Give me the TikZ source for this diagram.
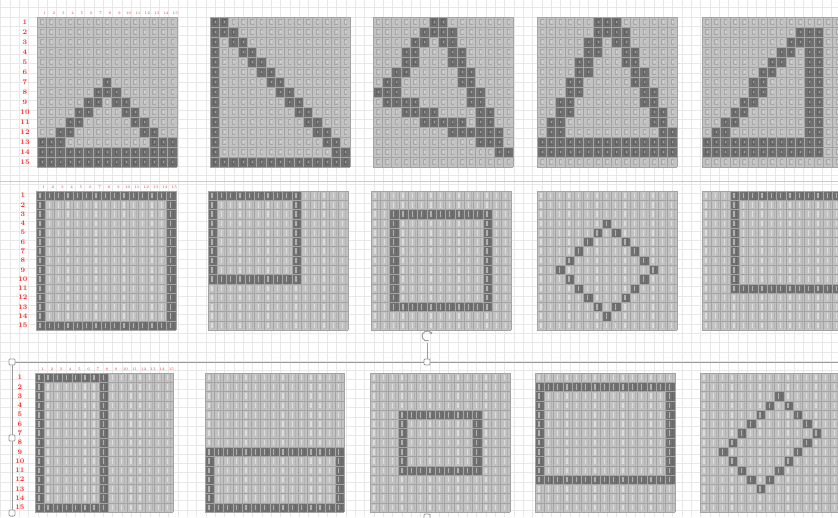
\documentclass[tikz,border=0pt]{standalone}
\usetikzlibrary{arrows.meta}
\definecolor{cellbg}{HTML}{C2C2C2}
\definecolor{celldk}{HTML}{707070}
\definecolor{cellln}{HTML}{A4A4A4}
\definecolor{sheetln}{HTML}{E8E8E8}
\definecolor{lblred}{HTML}{FF2A2A}
\definecolor{selln}{HTML}{9A9A9A}
\definecolor{selgreen}{HTML}{2E8B57}
\tikzset{
  rowlbl/.style={text=lblred,font=\fontsize{7}{7}\selectfont\bfseries,inner sep=0pt},
  collbl/.style={text=lblred,font=\fontsize{3.8}{3.8}\selectfont,inner sep=0pt},
  handlebox/.style={draw=selln,fill=white,line width=0.8pt,rounded corners=1pt,minimum size=6pt,inner sep=0pt},
  glyphC/.style={draw=black,draw opacity=0.13,line width=0.9pt},
  glyphCw/.style={draw=white,draw opacity=0.35,line width=0.8pt},
  glyphI/.style={draw=white,draw opacity=0.45,line width=1.3pt},
  glyphIdk/.style={draw=black,draw opacity=0.08,line width=1pt},
}
% filled cells along a line from (r1,c1) to (r2,c2), thickness #1 columns
\newcommand\rseg[5]{%
  \pgfmathtruncatemacro\segn{max(abs(#4-#2),abs(#5-#3))}%
  \pgfmathtruncatemacro\segd{max(\segn,1)}%
  \foreach \i in {0,...,\segn}{%
    \pgfmathtruncatemacro\segr{round(#2+(#4-#2)*\i/\segd)}%
    \pgfmathtruncatemacro\segc{round(#3+(#5-#3)*\i/\segd)}%
    \pgfmathtruncatemacro\sege{min(\segc-1+#1,15)}%
    \fill[celldk] (\segc-1,\segr-1) rectangle (\sege,\segr);
  }}
% rectangle border r1 c1 r2 c2
\newcommand\rbox[4]{%
  \fill[celldk] (#2-1,#1-1) rectangle (#4,#1);
  \fill[celldk] (#2-1,#3-1) rectangle (#4,#3);
  \fill[celldk] (#2-1,#1-1) rectangle (#2,#3);
  \fill[celldk] (#4-1,#1-1) rectangle (#4,#3);}
% cell textures
\newcommand\textureC{%
  \path[glyphC] foreach \a in {0,...,14}{foreach \b in {0,...,14}{
    (\a+0.72,\b+0.28) -- (\a+0.38,\b+0.28) -- (\a+0.38,\b+0.72) -- (\a+0.72,\b+0.72)}};
  \path[glyphCw] foreach \a in {0,...,14}{foreach \b in {0,...,14}{
    (\a+0.55,\b+0.42) -- (\a+0.55,\b+0.6)}};}
\newcommand\textureI{%
  \path[glyphIdk] foreach \a in {0,...,14}{(\a+0.72,0.1) -- (\a+0.72,14.9)};
  \path[glyphI] foreach \a in {0,...,14}{foreach \b in {0,...,14}{
    (\a+0.42,\b+0.2) -- (\a+0.42,\b+0.8)}};}
% x0 y0 cellw cellh content texture
\newcommand\sheetgrid[6]{%
  \begin{scope}[shift={(#1,#2)},x=#3pt,y=-#4pt]
    \fill[cellbg] (0,0) rectangle (15,15);
    #5
    #6
    \foreach \k in {0,...,15}{\draw[cellln,line width=0.35pt] (\k,0) -- (\k,15) (0,\k) -- (15,\k);}
  \end{scope}}
% labels: x0 y0 cw ch rowlabel-x name
\newcommand\sheetlabels[6]{%
  \foreach \r in {1,...,15}{\node[rowlbl] (#6r\r) at (#5,{#2+(\r-0.5)*#4}) {\r};}
  \foreach \c in {1,...,15}{\node[collbl] (#6c\c) at ({#1+(\c-0.5)*#3+3},{#2-4}) {\c};}}

\begin{document}
\begin{tikzpicture}[x=1pt,y=-1pt]
\useasboundingbox (0,0) rectangle (838,517);
\clip (0,0) rectangle (838,517);
\fill[white] (0,0) rectangle (838,517);
\foreach \i in {0,...,90}{\draw[sheetln,line width=0.5pt] ({0.7+\i*9.33},0) -- ({0.7+\i*9.33},517);}
\foreach \j in {0,...,56}{\draw[sheetln,line width=0.5pt] (0,{7.7+\j*9.3}) -- (838,{7.7+\j*9.3});}
\draw[sheetln!70!gray,line width=0.8pt] (0,181) -- (838,181);

% ---------- row 1 ----------
\sheetgrid{37}{17}{9.33}{10}{%
  \fill[celldk] (0,13) rectangle (15,15);
  \rseg{1}{7}{8}{7}{8}
  \rseg{2}{8}{7}{13}{2}
  \rseg{2}{8}{8}{13}{13}
  \rseg{1}{13}{1}{13}{1}
  \rseg{1}{13}{15}{13}{15}}{\textureC}
\sheetgrid{210}{17}{9.33}{10}{%
  \fill[celldk] (0,0) rectangle (1,15);
  \fill[celldk] (0,14) rectangle (15,15);
  \rseg{2}{1}{1}{14}{14}}{\textureC}
\sheetgrid{373}{17}{9.33}{10}{%
  \rseg{2}{1}{7}{8}{1}
  \rseg{1}{8}{2}{13}{14}
  \rseg{1}{9}{2}{14}{15}
  \rseg{2}{1}{7}{14}{14}}{\textureC}
\sheetgrid{537}{17}{9.33}{10}{%
  \rseg{2}{1}{7}{13}{1}
  \rseg{2}{1}{8}{13}{14}
  \fill[celldk] (0,12) rectangle (15,14);}{\textureC}
\sheetgrid{702}{17}{9.33}{10}{%
  \fill[celldk] (11,1) rectangle (13,14);
  \rseg{2}{2}{11}{13}{1}
  \fill[celldk] (0,12) rectangle (13,14);}{\textureC}
\sheetlabels{37}{17}{9.33}{10}{25}{a}

% ---------- row 2 ----------
\sheetgrid{36}{191}{9.33}{9.27}{\rbox{1}{1}{15}{15}}{\textureI}
\sheetgrid{208}{191}{9.33}{9.27}{\rbox{1}{1}{10}{10}}{\textureI}
\sheetgrid{371}{191}{9.33}{9.27}{\rbox{3}{3}{13}{13}}{\textureI}
\sheetgrid{537}{191}{9.33}{9.27}{%
  \rseg{1}{4}{8}{9}{3}
  \rseg{1}{9}{3}{14}{8}
  \rseg{1}{14}{8}{9}{13}
  \rseg{1}{9}{13}{4}{8}}{\textureI\draw[selgreen,line width=0.8pt] (4,8) rectangle (5,9);}
\sheetgrid{702}{191}{9.33}{9.27}{%
  \fill[celldk] (3,0) rectangle (15,1);
  \fill[celldk] (3,10) rectangle (15,11);
  \fill[celldk] (3,0) rectangle (4,11);}{\textureI}
\sheetlabels{36}{191}{9.33}{9.27}{23}{b}

% ---------- row 3 ----------
\sheetgrid{35}{373}{9.2}{9.27}{\rbox{1}{1}{15}{8}}{\textureI}
\sheetgrid{205}{373}{9.27}{9.27}{\rbox{9}{1}{15}{15}}{\textureI}
\sheetgrid{370}{373}{9.33}{9.27}{\rbox{5}{4}{11}{12}}{\textureI}
\sheetgrid{535}{373}{9.33}{9.27}{\rbox{2}{1}{12}{15}}{\textureI}
\sheetgrid{700}{373}{9.33}{9.27}{%
  \rseg{1}{3}{9}{7}{13}
  \rseg{1}{7}{13}{13}{7}
  \rseg{1}{13}{7}{9}{3}
  \rseg{1}{9}{3}{3}{9}}{\textureI}
\sheetlabels{35}{373}{9.2}{9.27}{20}{c}

% ---------- selection frame ----------
\coordinate (fbl) at (12,517);
\coordinate (ftl) at (12,362);
\coordinate (ftr) at (838,362);
\draw[selln,line width=1pt] (fbl) -- (ftl) -- (ftr);
\coordinate (rotc) at (427,336);
\draw[selln,line width=0.9pt] (427,343) -- (427,362);
\draw[selln,line width=0.9pt,-{Stealth[length=2.5pt,width=3pt]}] ([shift={(70:5)}]rotc) arc (70:340:5);
\node[handlebox] (h1) at (12,362) {};
\node[handlebox] (h2) at (12,438) {};
\node[handlebox] (h3) at (12,513) {};
\node[handlebox] (h4) at (427,362) {};
\node[handlebox] (h5) at (427,517) {};
\end{tikzpicture}
\end{document}
